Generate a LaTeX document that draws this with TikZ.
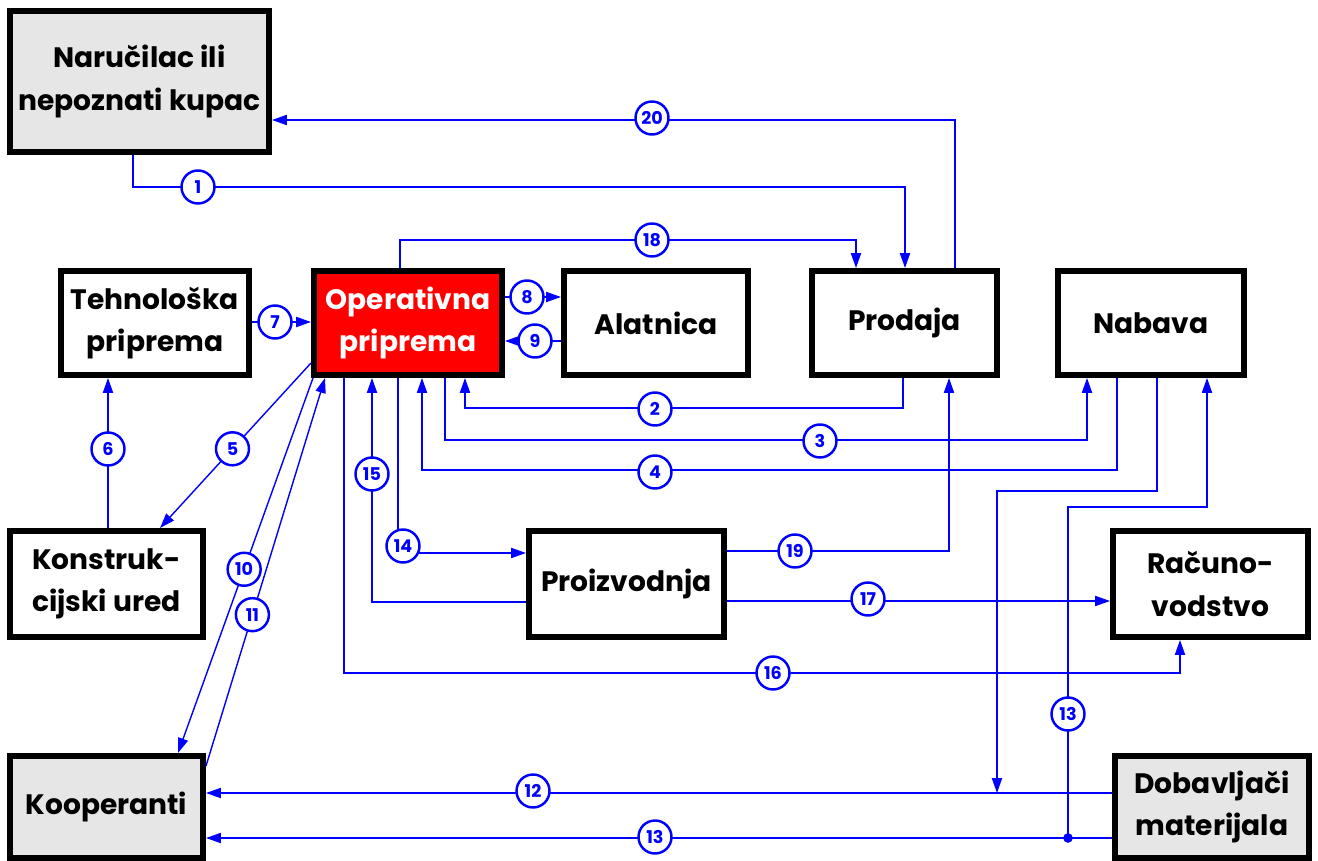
\documentclass[tikz,border=0pt]{standalone}
\usepackage{fontspec}
\setmainfont{Poppins}
\usetikzlibrary{arrows.meta,calc}
\definecolor{lineblue}{RGB}{0,0,255}
\definecolor{boxgray}{RGB}{230,230,230}
\definecolor{opred}{RGB}{255,0,0}
\begin{document}
\begin{tikzpicture}[x=0.02cm,y=-0.02cm,
  box/.style={draw=black, line width=3.4pt, fill=white, align=center, inner sep=0pt,
    font=\fontsize{16}{24}\selectfont\bfseries},
  wh/.style 2 args={minimum width=#1*0.02cm, minimum height=#2*0.02cm},
  conn/.style={draw=lineblue, line width=0.8pt},
  arr/.style={conn, -{Triangle[length=8.5pt,width=5.8pt]}},
  lab/.style={circle, draw=lineblue, line width=1.4pt, fill=white, text=lineblue,
    inner sep=0pt, minimum size=0.66cm, font=\fontsize{10}{10}\selectfont\bfseries},
  jdot/.style={circle, fill=lineblue, inner sep=0pt, minimum size=5.5pt}]
\useasboundingbox (0,0) rectangle (1318,861);

% departments
\node[box, fill=boxgray, wh={259}{141}] (nar) at (139.5,81.5) {Naručilac ili\\nepoznati kupac};
\node[box, wh={188}{104}] (teh) at (155,323) {Tehnološka\\priprema};
\node[box, fill=opred, text=white, wh={188}{104}] (op) at (408,323) {Operativna\\priprema};
\node[box, wh={184}{104}] (ala) at (656,323) {Alatnica};
\node[box, wh={185}{104}] (pro) at (904.5,323) {Prodaja};
\node[box, wh={186}{104}] (nab) at (1151,323) {Nabava};
\node[box, wh={193}{106}] (kon) at (106.5,584) {Konstruk-\\cijski ured};
\node[box, wh={195}{106}] (proiz) at (626.5,584) {Proizvodnja};
\node[box, wh={195}{106}] (rac) at (1210.5,584) {Računo-\\vodstvo};
\node[box, fill=boxgray, wh={193}{102}] (koop) at (106.5,807) {Kooperanti};
\node[box, fill=boxgray, wh={194}{102}] (dob) at (1212,807) {Dobavljači\\materijala};

% flows
\draw[arr] (133,0 |- nar.south) |- (905,187) -- (905,0 |- pro.north);
\draw[arr] (903,0 |- pro.south) |- (465,408) -- (465,0 |- op.south);
\draw[arr] (445,0 |- op.south) |- (1087,440) -- (1087,0 |- nab.south);
\draw[arr] (1117,0 |- nab.south) |- (422,470) -- (422,0 |- op.south);
\draw[arr] ($(op.south west)+(0,-15)$) -- node[lab, pos=0.52] {5} (160,0 |- kon.north);
\draw[arr] (108,0 |- kon.north) -- (108,0 |- teh.south);
\draw[arr] (teh.east |- 0,322) -- (op.west |- 0,322);
\draw[arr] (op.east |- 0,297) -- (ala.west |- 0,297);
\draw[arr] (ala.west |- 0,341) -- (op.east |- 0,341);
\draw[arr] (313,0 |- op.south) -- node[lab, pos=0.51] {10} (178,0 |- koop.north);
\draw[arr] (koop.east |- 0,766) -- node[lab, pos=0.39] {11} (325,0 |- op.south);
\draw[arr] (dob.west |- 0,793) -- (koop.east |- 0,793);
\draw[arr] (1157,0 |- nab.south) |- (997,491) -- (997,793);
\draw[arr] (dob.west |- 0,838) -- (koop.east |- 0,838);
\node[jdot] (j13) at (1068,838) {};
\draw[arr] (j13.center) |- (1207,507) -- (1207,0 |- nab.south);
\draw[arr] (398,0 |- op.south) |- (proiz.west |- 0,553);
\draw[arr] (proiz.west |- 0,602) -| (372,0 |- op.south);
\draw[arr] (344,0 |- op.south) |- (1180,673) -- (1180,0 |- rac.south);
\draw[arr] (proiz.east |- 0,601) -- (rac.west |- 0,601);
\draw[arr] (400,0 |- op.north) |- (856,240) -- (856,0 |- pro.north);
\draw[arr] (proiz.east |- 0,551) -| (949,0 |- pro.south);
\draw[arr] (955,0 |- pro.north) |- (nar.east |- 0,120);

% flow numbers
\node[lab] at (198,187) {1};
\node[lab] at (655,409) {2};
\node[lab] at (820,441) {3};
\node[lab] at (655,472) {4};
\node[lab] at (108,449) {6};
\node[lab] at (275,322) {7};
\node[lab] at (527,297) {8};
\node[lab] at (535,341) {9};
\node[lab] at (533,791) {12};
\node[lab] at (655,837) {13};
\node[lab] at (1068,714) {13};
\node[lab] at (403,546) {14};
\node[lab] at (372,474) {15};
\node[lab] at (773,673) {16};
\node[lab] at (868,599) {17};
\node[lab] at (652,240) {18};
\node[lab] at (795,551) {19};
\node[lab] at (652,118) {20};
\end{tikzpicture}
\end{document}
